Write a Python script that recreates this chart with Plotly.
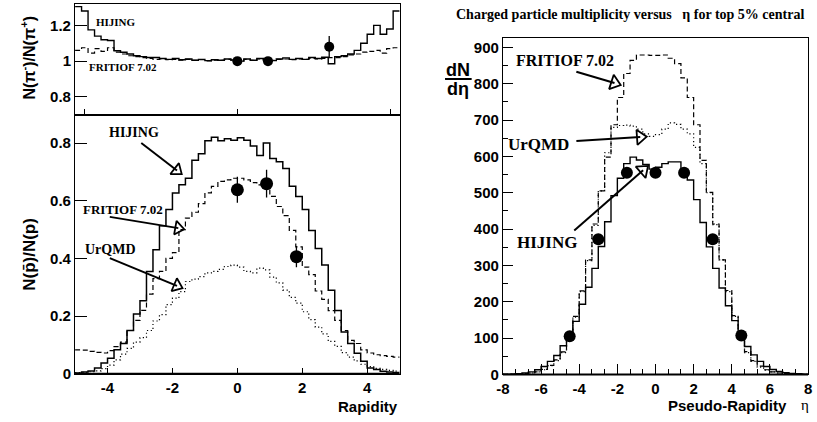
import numpy as np
import plotly.graph_objects as go

W, H = 817, 422

# ---------------- data ----------------
# Top-left: N(pi-)/N(pi+) vs rapidity, 50 bins on [-5.3, 5.3]
pi_range = (-5.3, 5.3)
pi_hijing = [1.305, 1.28, 1.175, 1.14, 1.12, 1.115, 1.058, 1.05, 1.04, 1.03,
             1.025, 1.02, 1.02, 1.015, 1.01, 1.015, 1.008, 1.012, 1.005, 1.01,
             1.003, 1.008, 1.005, 1.012, 1.006, 1.0, 1.012, 1.005, 1.015, 1.008,
             1.003, 1.012, 1.018, 1.01, 1.015, 1.01, 1.02, 1.015, 1.022, 0.985,
             1.025, 1.03, 1.04, 1.06, 1.10, 1.15, 1.20, 1.15, 1.18, 1.28]
pi_fritiof = [1.06, 1.075, 1.045, 1.07, 1.055, 1.075, 1.05, 1.04, 1.03, 1.025,
              1.02, 1.015, 1.01, 1.012, 1.008, 1.01, 1.005, 1.01, 1.004, 1.008,
              1.002, 1.006, 1.004, 1.01, 1.005, 1.002, 1.01, 1.004, 1.012, 1.006,
              1.004, 1.01, 1.012, 1.008, 1.012, 1.01, 1.015, 1.012, 1.015, 1.02,
              1.02, 1.025, 1.035, 1.04, 1.05, 1.055, 1.06, 1.045, 1.07, 1.075]
pi_pts_x = [0.0, 1.0, 3.0]
pi_pts_y = [1.0, 1.0, 1.08]
pi_pts_err = [0.01, 0.01, 0.06]

# Bottom-left: N(pbar)/N(p) vs rapidity, 50 bins on [-5, 5]
pp_range = (-5.0, 5.0)
pp_hijing = [0.003, 0.006, 0.01, 0.02, 0.037, 0.054, 0.083, 0.105, 0.15, 0.207,
             0.253, 0.355, 0.43, 0.513, 0.57, 0.627, 0.655, 0.678, 0.74, 0.763,
             0.808, 0.82, 0.808, 0.815, 0.81,
             0.818, 0.81, 0.79, 0.757, 0.80, 0.746, 0.735, 0.712, 0.65, 0.615,
             0.57, 0.497, 0.434, 0.377, 0.29, 0.219, 0.145, 0.105, 0.071, 0.043,
             0.02, 0.015, 0.009, 0.006, 0.004]
pp_fritiof = [0.083, 0.082, 0.078, 0.074, 0.072, 0.08, 0.094, 0.11, 0.15, 0.185,
              0.22, 0.276, 0.33, 0.355, 0.40, 0.42, 0.5, 0.54, 0.56, 0.59,
              0.627, 0.65, 0.667, 0.672, 0.678,
              0.678, 0.672, 0.663, 0.655, 0.645, 0.615, 0.58, 0.548, 0.497, 0.44,
              0.37, 0.344, 0.287, 0.258, 0.219, 0.185, 0.15, 0.116, 0.105, 0.083,
              0.072, 0.066, 0.063, 0.06, 0.058]
pp_urqmd = [0.004, 0.005, 0.007, 0.01, 0.018, 0.03, 0.048, 0.068, 0.088, 0.11,
            0.125, 0.15, 0.183, 0.205, 0.24, 0.262, 0.285, 0.32, 0.328, 0.337,
            0.35, 0.355, 0.362, 0.372, 0.377,
            0.37, 0.355, 0.35, 0.366, 0.36, 0.335, 0.315, 0.29, 0.265, 0.245,
            0.215, 0.188, 0.162, 0.138, 0.112, 0.095, 0.073, 0.058, 0.045, 0.033,
            0.025, 0.019, 0.015, 0.012, 0.009]
pp_pts_x = [0.0, 0.9, 1.82]
pp_pts_y = [0.638, 0.659, 0.406]
pp_pts_err = [0.045, 0.048, 0.037]

# Right: dN/deta vs pseudo-rapidity, 48 bins on [-8, 8]
eta_range = (-8.0, 8.0)
eta_hijing = [0.5, 1, 2, 4, 7, 13, 22, 36, 52, 79, 108, 146,
              193, 240, 292, 352, 420, 492, 540, 580, 598, 590, 578, 565,
              570, 580, 585, 585, 545, 535, 481, 418, 351, 292, 238, 189,
              148, 108, 77, 54, 36, 22, 13.5, 8, 5, 3, 2, 1]
eta_fritiof = [0.5, 1, 1.5, 2.5, 4, 7, 14, 25, 40, 62, 95, 160,
               230, 315, 414, 505, 598, 687, 762, 828, 864, 879, 879, 878,
               878, 879, 870, 855, 816, 762, 687, 589, 501, 414, 315, 231,
               162, 99, 63, 38, 23, 13, 7, 4, 2.5, 1.5, 1, 0.5]
eta_urqmd = [0.5, 1, 1.5, 2.5, 4, 7, 13, 24, 38, 60, 97, 158,
             228, 313, 410, 505, 610, 680, 685, 686, 683, 675, 662, 655,
             660, 675, 692, 688, 675, 662, 625, 580, 500, 412, 315, 228,
             160, 100, 60, 36, 20, 12, 7, 4, 2.5, 1.5, 1, 0.5]
eta_pts_x = [-4.5, -3.0, -1.5, 0.0, 1.5, 3.0, 4.5]
eta_pts_y = [105, 372, 555, 555, 555, 372, 107]

# ---------------- helpers ----------------
BLACK = "black"
SANS = "Liberation Sans"
SERIF = "Liberation Serif"
DASH = "5px,3px"
DOT = "1.2px,2.6px"


def step_xy(rng, vals):
    edges = np.linspace(rng[0], rng[1], len(vals) + 1)
    return edges, list(vals) + [vals[-1]]


def hist_trace(rng, vals, dash, xa, ya, width=1.4):
    x, y = step_xy(rng, vals)
    return go.Scatter(x=x, y=y, mode="lines", line=dict(shape="hv", color=BLACK, width=width, dash=dash),
                      xaxis=xa, yaxis=ya, showlegend=False, hoverinfo="skip")


def points_trace(xs, ys, errs, size, xa, ya):
    return go.Scatter(x=xs, y=ys, mode="markers",
                      marker=dict(color=BLACK, size=size, symbol="circle"),
                      error_y=dict(type="data", array=errs, visible=errs is not None,
                                   color=BLACK, thickness=1.3, width=0),
                      xaxis=xa, yaxis=ya, showlegend=False, hoverinfo="skip")


fig = go.Figure()

# top-left
fig.add_trace(hist_trace(pi_range, pi_hijing, "solid", "x", "y"))
fig.add_trace(hist_trace(pi_range, pi_fritiof, DASH, "x", "y", 1.2))
fig.add_trace(points_trace(pi_pts_x, pi_pts_y, pi_pts_err, 10, "x", "y"))

# bottom-left
fig.add_trace(hist_trace(pp_range, pp_hijing, "solid", "x2", "y2", 1.5))
fig.add_trace(hist_trace(pp_range, pp_fritiof, DASH, "x2", "y2", 1.2))
fig.add_trace(hist_trace(pp_range, pp_urqmd, DOT, "x2", "y2", 1.2))
fig.add_trace(points_trace(pp_pts_x, pp_pts_y, pp_pts_err, 13, "x2", "y2"))

# right
fig.add_trace(hist_trace(eta_range, eta_urqmd, DOT, "x3", "y3", 1.2))
fig.add_trace(hist_trace(eta_range, eta_fritiof, DASH, "x3", "y3", 1.2))
fig.add_trace(hist_trace(eta_range, eta_hijing, "solid", "x3", "y3", 1.4))
fig.add_trace(points_trace(eta_pts_x, eta_pts_y, None, 12, "x3", "y3"))


# arrows with hollow triangle heads
def arrow(x0, y0, x1, y1, ang, xa, ya, size=12):
    fig.add_trace(go.Scatter(x=[x0, x1], y=[y0, y1], mode="lines", line=dict(color=BLACK, width=2),
                             xaxis=xa, yaxis=ya, showlegend=False, hoverinfo="skip"))
    fig.add_trace(go.Scatter(x=[x1], y=[y1], mode="markers",
                             marker=dict(symbol="triangle-up-open", size=size, angle=ang,
                                         color=BLACK, line=dict(width=1.8, color=BLACK)),
                             xaxis=xa, yaxis=ya, showlegend=False, hoverinfo="skip"))


# bottom-left arrows
arrow(-2.96, 0.80, -1.86, 0.705, 128, "x2", "y2")
arrow(-3.93, 0.544, -1.82, 0.505, 100, "x2", "y2")
arrow(-3.93, 0.401, -1.86, 0.305, 113, "x2", "y2")
# right arrows
arrow(-4.15, 833, -2.15, 802, 108, "x3", "y3", 13)
arrow(-4.15, 642, -0.8, 653, 86, "x3", "y3", 13)
arrow(-4.26, 396, -0.65, 562, 49, "x3", "y3", 13)

ann = []


def label(text, x, y, xa, ya, size, family=SERIF, weight="bold", xanchor="center"):
    ann.append(dict(text=text, x=x, y=y, xref=xa, yref=ya, showarrow=False, xanchor=xanchor,
                    yanchor="middle", font=dict(family=family, size=size, color=BLACK, weight=weight)))


label("HIJING", -3.95, 1.219, "x", "y", 11)
label("FRITIOF 7.02", -3.75, 0.965, "x", "y", 11)
label("HIJING", -3.17, 0.837, "x2", "y2", 14)
label("FRITIOF 7.02", -3.53, 0.571, "x2", "y2", 13)
label("UrQMD", -3.9, 0.432, "x2", "y2", 14)
label("FRITIOF 7.02", -4.77, 863, "x3", "y3", 16)
label("UrQMD", -6.11, 634, "x3", "y3", 17)
label("HIJING", -5.68, 364, "x3", "y3", 17)


def paper_text(text, px, py, size, family=SANS, weight="bold", xanchor="center", angle=0):
    ann.append(dict(text=text, x=px / W, y=1 - py / H, xref="paper", yref="paper", showarrow=False,
                    xanchor=xanchor, yanchor="middle", textangle=angle,
                    font=dict(family=family, size=size, color=BLACK, weight=weight)))


NB = "\u00a0"
paper_text("Charged particle multiplicity versus" + NB * 3 + "η for top 5% central", 632, 15, 14, family=SERIF)
paper_text("Rapidity", 398, 414, 15, xanchor="right")
paper_text("Pseudo-Rapidity", 793, 413, 15, xanchor="right")
paper_text("η", 809, 413, 15, family=SERIF, weight="normal")
paper_text("N(π<sup>-</sup>)/N(π<sup>+</sup>)", 21, 59, 16, angle=-90)
paper_text("N(p\u0304)/N(p)", 22, 259, 17, angle=-90)
paper_text("dN", 457, 71, 18)
paper_text("dη", 457, 91, 18)

shapes = [
    dict(type="line", xref="paper", yref="paper", x0=444 / W, x1=471 / W,
         y0=1 - 80.5 / H, y1=1 - 80.5 / H, line=dict(color=BLACK, width=2)),
]

tickfont = dict(family=SANS, size=15, color=BLACK, weight="bold")


def ax(domain, rng, **kw):
    d = dict(domain=domain, range=list(rng), showline=True, mirror=True, linecolor=BLACK, linewidth=1.2,
             ticks="inside", tickcolor=BLACK, showgrid=False, zeroline=False, tickfont=tickfont,
             fixedrange=True)
    d.update(kw)
    return d


xl = [69 / W, 398 / W]
xr = [502.7 / W, 812 / W]
yb = [(H - 381) / H, (H - 117) / H]
yr = [(H - 381.7) / H, (H - 39) / H]

# thicker bottom axis lines (as in the reference frame)
shapes.append(dict(type="line", xref="paper", yref="paper", x0=xl[0], x1=xl[1], y0=yb[0], y1=yb[0],
                   line=dict(color=BLACK, width=2)))
shapes.append(dict(type="line", xref="paper", yref="paper", x0=xr[0], x1=xr[1], y0=yr[0], y1=yr[0],
                   line=dict(color=BLACK, width=2)))

fig.update_layout(
    width=W, height=H, margin=dict(l=0, r=0, t=0, b=0),
    paper_bgcolor="white", plot_bgcolor="white", showlegend=False,
    xaxis=ax(xl, pi_range, anchor="y", tickvals=[-5, 0, 5], showticklabels=False, ticklen=6),
    yaxis=ax([(H - 117) / H, (H - 4) / H], (0.70, 1.32), anchor="x", tickvals=[0.8, 1.0, 1.2],
             ticktext=["0.8", "1", "1.2"], ticklen=12),
    xaxis2=ax(xl, pp_range, anchor="y2", tickvals=[-4, -2, 0, 2, 4], ticktext=["-4", "-2", "0", "2", "4"],
              ticklen=6),
    yaxis2=ax(yb, (0, 0.898), anchor="x2", tickvals=[0, 0.2, 0.4, 0.6, 0.8],
              ticktext=["0", "0.2", "0.4", "0.6", "0.8"], ticklen=12),
    xaxis3=ax(xr, eta_range, anchor="y3", tickvals=[-8, -6, -4, -2, 0, 2, 4, 6, 8],
              ticktext=["-8", "-6", "-4", "-2", "0", "2", "4", "6", "8"], ticklen=10,
              minor=dict(tickvals=list(np.arange(-8, 8.01, 2 / 3)), ticklen=5, ticks="inside",
                         tickcolor=BLACK)),
    yaxis3=ax(yr, (0, 925), anchor="x3", tickvals=list(range(0, 901, 100)),
              ticklen=10, minor=dict(dtick=50, ticklen=5, ticks="inside", tickcolor=BLACK)),
    annotations=ann, shapes=shapes,
)

fig.write_html("out.html", config={"displayModeBar": False},
               post_script="document.body.style.margin='0';document.body.style.padding='0';")
